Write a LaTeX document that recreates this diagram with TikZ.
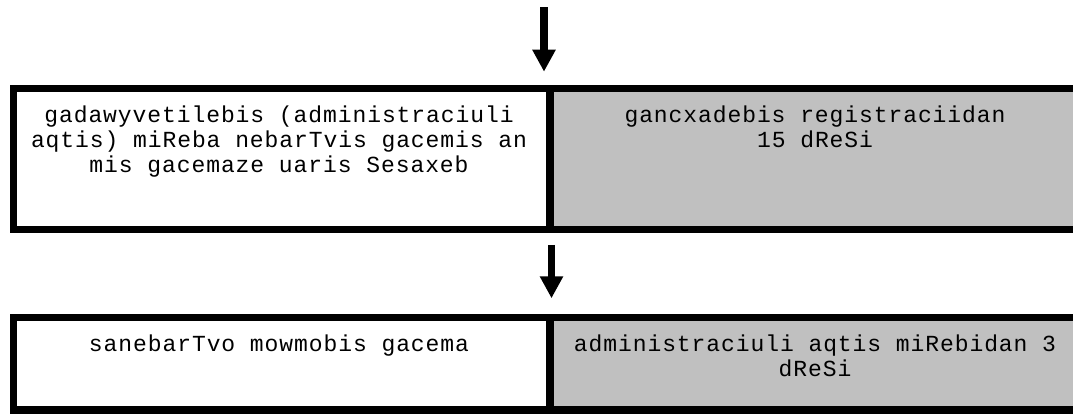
\documentclass[tikz,border=0pt]{standalone}
\usepackage{fontspec}
\newfontfamily\cellfont{Liberation Mono}[LetterSpace=4]
\usetikzlibrary{arrows.meta}
\definecolor{cellgray}{RGB}{192,192,192}
\begin{document}
\begin{tikzpicture}[x=1pt,y=-1pt,
  cell/.style={draw=black, line width=7.5pt, inner sep=0pt, anchor=north west,
    minimum height=141pt},
  lcell/.style={cell, fill=white, minimum width=536.3pt},
  rcell/.style={cell, fill=cellgray, minimum width=538pt},
  txt/.style={inner sep=0pt, anchor=base,
    font=\cellfont\fontsize{23}{25}\selectfont},
  arr/.style={line width=7.6pt, -{Triangle[width=22pt,length=22pt]}}
]
\clip (0,0) rectangle (1073,413);
\fill[white] (0,0) rectangle (1073,413);
% first row
\node[rcell] (c1r) at (546,84.5) {};
\node[lcell] (c1l) at (9.7,84.5) {};
% second row
\node[rcell, minimum height=92.3pt] (c2r) at (546,313.7) {};
\node[lcell, minimum height=92.3pt] (c2l) at (9.7,313.7) {};
% texts
\node[txt] (t1l) at (279,122) {\begin{tabular}[t]{@{}c@{}}gadawyvetilebis (administraciuli\\aqtis) miReba nebarTvis gacemis an\\mis gacemaze uaris Sesaxeb\end{tabular}};
\node[txt] (t1r) at (815,122) {\begin{tabular}[t]{@{}c@{}}gancxadebis registraciidan\\15 dReSi\end{tabular}};
\node[txt] (t2l) at (279,351) {\begin{tabular}[t]{@{}c@{}}sanebarTvo mowmobis gacema\end{tabular}};
\node[txt] (t2r) at (815,351) {\begin{tabular}[t]{@{}c@{}}administraciuli aqtis miRebidan 3\\dReSi\end{tabular}};
% arrows
\coordinate (start) at (544,7.3);
\draw[arr, shorten >=12.8pt] (start) -- (start |- c1l.north);
\draw[arr, shorten <=11.8pt, shorten >=15.4pt] ([xshift=-2pt]c1l.south east) -- ([xshift=-2pt]c2l.north east);
\end{tikzpicture}
\end{document}
